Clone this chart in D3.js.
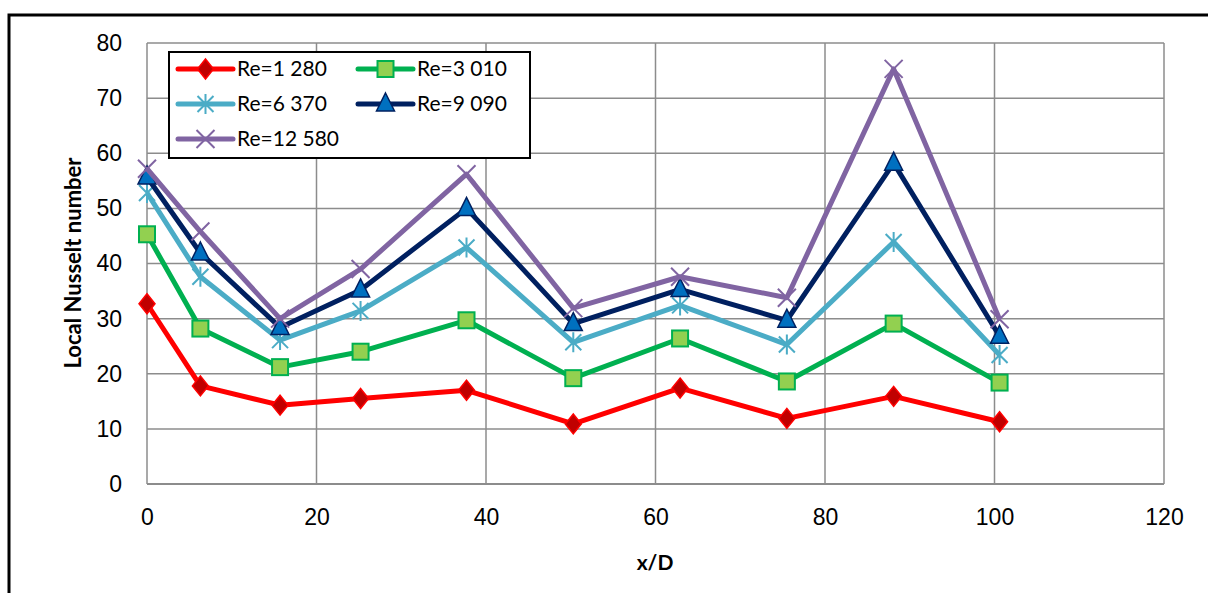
<!DOCTYPE html>
<html>
<head>
<meta charset="utf-8">
<script src="https://cdn.jsdelivr.net/npm/d3@7"></script>
<style>
  body { margin: 0; background: #fff; }
  svg { display: block; font-family: Lato, "Open Sans", sans-serif; }
</style>
</head>
<body>
<svg id="chart"></svg>
<script>
const xValues = [0, 6.3, 15.7, 25.2, 37.7, 50.3, 62.9, 75.5, 88.1, 100.6];
const re1280 = [32.7, 17.8, 14.3, 15.5, 17.0, 10.9, 17.4, 11.9, 15.9, 11.3];
const re3010 = [45.3, 28.2, 21.2, 24.0, 29.7, 19.2, 26.4, 18.6, 29.1, 18.4];
const re6370 = [52.8, 37.6, 26.1, 31.4, 42.9, 25.7, 32.4, 25.3, 43.9, 23.4];
const re9090 = [55.7, 41.9, 28.4, 35.2, 50.0, 29.1, 35.3, 29.7, 58.2, 26.8];
const re12580 = [57.2, 45.8, 30.0, 39.0, 56.2, 31.9, 37.6, 33.8, 75.3, 29.9];
const seriesNames = ["Re=1 280", "Re=3 010", "Re=6 370", "Re=9 090", "Re=12 580"];
const xTicks = [0, 20, 40, 60, 80, 100, 120];
const yTicks = [0, 10, 20, 30, 40, 50, 60, 70, 80];

const W = 1208, H = 593;
const svg = d3.select("#chart").attr("width", W).attr("height", H);

// outer frame (only left and top visible)
svg.append("rect")
    .attr("x", 9).attr("y", 15)
    .attr("width", W + 20).attr("height", H + 20)
    .attr("fill", "none").attr("stroke", "#000").attr("stroke-width", 3);

const x = d3.scaleLinear().domain([0, 120]).range([147, 1164]);
const y = d3.scaleLinear().domain([0, 80]).range([484, 43]);

const grid = svg.append("g");
grid.selectAll(".hg").data(yTicks).enter().append("line")
    .attr("x1", x(0)).attr("x2", x(120))
    .attr("y1", d => y(d)).attr("y2", d => y(d))
    .attr("stroke", "#8c8c8c").attr("stroke-width", d => d === 0 ? 2 : 1.5);
grid.selectAll(".vg").data(xTicks).enter().append("line")
    .attr("x1", d => x(d)).attr("x2", d => x(d))
    .attr("y1", y(0)).attr("y2", y(80))
    .attr("stroke", "#8c8c8c").attr("stroke-width", 1.5);

// axes via d3 (tick labels only)
const xAxis = svg.append("g")
    .attr("transform", `translate(0,${y(0)})`)
    .call(d3.axisBottom(x).tickValues(xTicks).tickSize(0).tickPadding(25));
xAxis.select(".domain").remove();
xAxis.selectAll("text").style("font-size", "23px").attr("fill", "#000");

const yAxis = svg.append("g")
    .attr("transform", `translate(${x(0)},0)`)
    .call(d3.axisLeft(y).tickValues(yTicks).tickSize(0).tickPadding(25));
yAxis.select(".domain").remove();
yAxis.selectAll("text").style("font-size", "23px").attr("fill", "#000");

svg.append("text")
    .attr("x", 655).attr("y", 570)
    .attr("text-anchor", "middle")
    .style("font-size", "21px").style("font-weight", "700")
    .text("x/D");

svg.append("text")
    .attr("transform", "translate(81,263) rotate(-90)")
    .attr("text-anchor", "middle")
    .style("font-size", "22px").style("font-weight", "700")
    .text("Local Nusselt number");

const series = [
  {name: seriesNames[0], values: re1280, color: "#ff0000", marker: "diamond", fill: "#c00000", stroke: "#ff0000"},
  {name: seriesNames[1], values: re3010, color: "#00b050", marker: "square", fill: "#92d050", stroke: "#00b050"},
  {name: seriesNames[2], values: re6370, color: "#4bacc6", marker: "star", fill: "none", stroke: "#4bacc6"},
  {name: seriesNames[3], values: re9090, color: "#002060", marker: "triangle", fill: "#0070c0", stroke: "#002060"},
  {name: seriesNames[4], values: re12580, color: "#8064a2", marker: "cross", fill: "none", stroke: "#8064a2"}
];

function drawMarker(g, type, s) {
  if (type === "diamond") {
    g.append("path").attr("d", "M0,-10 L8,0 L0,10 L-8,0 Z")
      .attr("fill", s.fill).attr("stroke", s.stroke).attr("stroke-width", 1.5);
  } else if (type === "square") {
    g.append("rect").attr("x", -8).attr("y", -8).attr("width", 16).attr("height", 16)
      .attr("fill", s.fill).attr("stroke", s.stroke).attr("stroke-width", 2);
  } else if (type === "triangle") {
    g.append("path").attr("d", "M0,-11 L9,7 L-9,7 Z")
      .attr("fill", s.fill).attr("stroke", s.stroke).attr("stroke-width", 1.5);
  } else if (type === "star") {
    g.append("path").attr("d", "M-8,-8 L8,8 M-8,8 L8,-8 M0,-10 L0,10")
      .attr("stroke", s.stroke).attr("stroke-width", 2);
  } else if (type === "cross") {
    g.append("path").attr("d", "M-9,-9 L9,9 M-9,9 L9,-9")
      .attr("stroke", s.stroke).attr("stroke-width", 2);
  }
}

const line = d3.line().x((d, i) => x(xValues[i])).y(d => y(d));

series.forEach(s => {
  svg.append("path")
    .datum(s.values)
    .attr("d", line)
    .attr("fill", "none")
    .attr("stroke", s.color)
    .attr("stroke-width", 5)
    .attr("stroke-linejoin", "round");
  s.values.forEach((v, i) => {
    const g = svg.append("g").attr("transform", `translate(${x(xValues[i])},${y(v)})`);
    drawMarker(g, s.marker, s);
  });
});

// legend
const legend = svg.append("g");
legend.append("rect")
    .attr("x", 169).attr("y", 52).attr("width", 361).attr("height", 106)
    .attr("fill", "#fff").attr("stroke", "#000").attr("stroke-width", 2);

const legPos = [
  {lx: 178, ty: 69}, {lx: 358, ty: 69},
  {lx: 178, ty: 104}, {lx: 358, ty: 104},
  {lx: 178, ty: 139}
];
series.forEach((s, i) => {
  const p = legPos[i];
  legend.append("line")
    .attr("x1", p.lx).attr("x2", p.lx + 55)
    .attr("y1", p.ty).attr("y2", p.ty)
    .attr("stroke", s.color).attr("stroke-width", 5).attr("stroke-linecap", "round");
  const g = legend.append("g").attr("transform", `translate(${p.lx + 27.5},${p.ty})`);
  drawMarker(g, s.marker, s);
  legend.append("text")
    .attr("x", p.lx + 59).attr("y", p.ty)
    .attr("dy", "0.35em")
    .style("font-size", "21px")
    .text(s.name);
});
</script>
</body>
</html>
